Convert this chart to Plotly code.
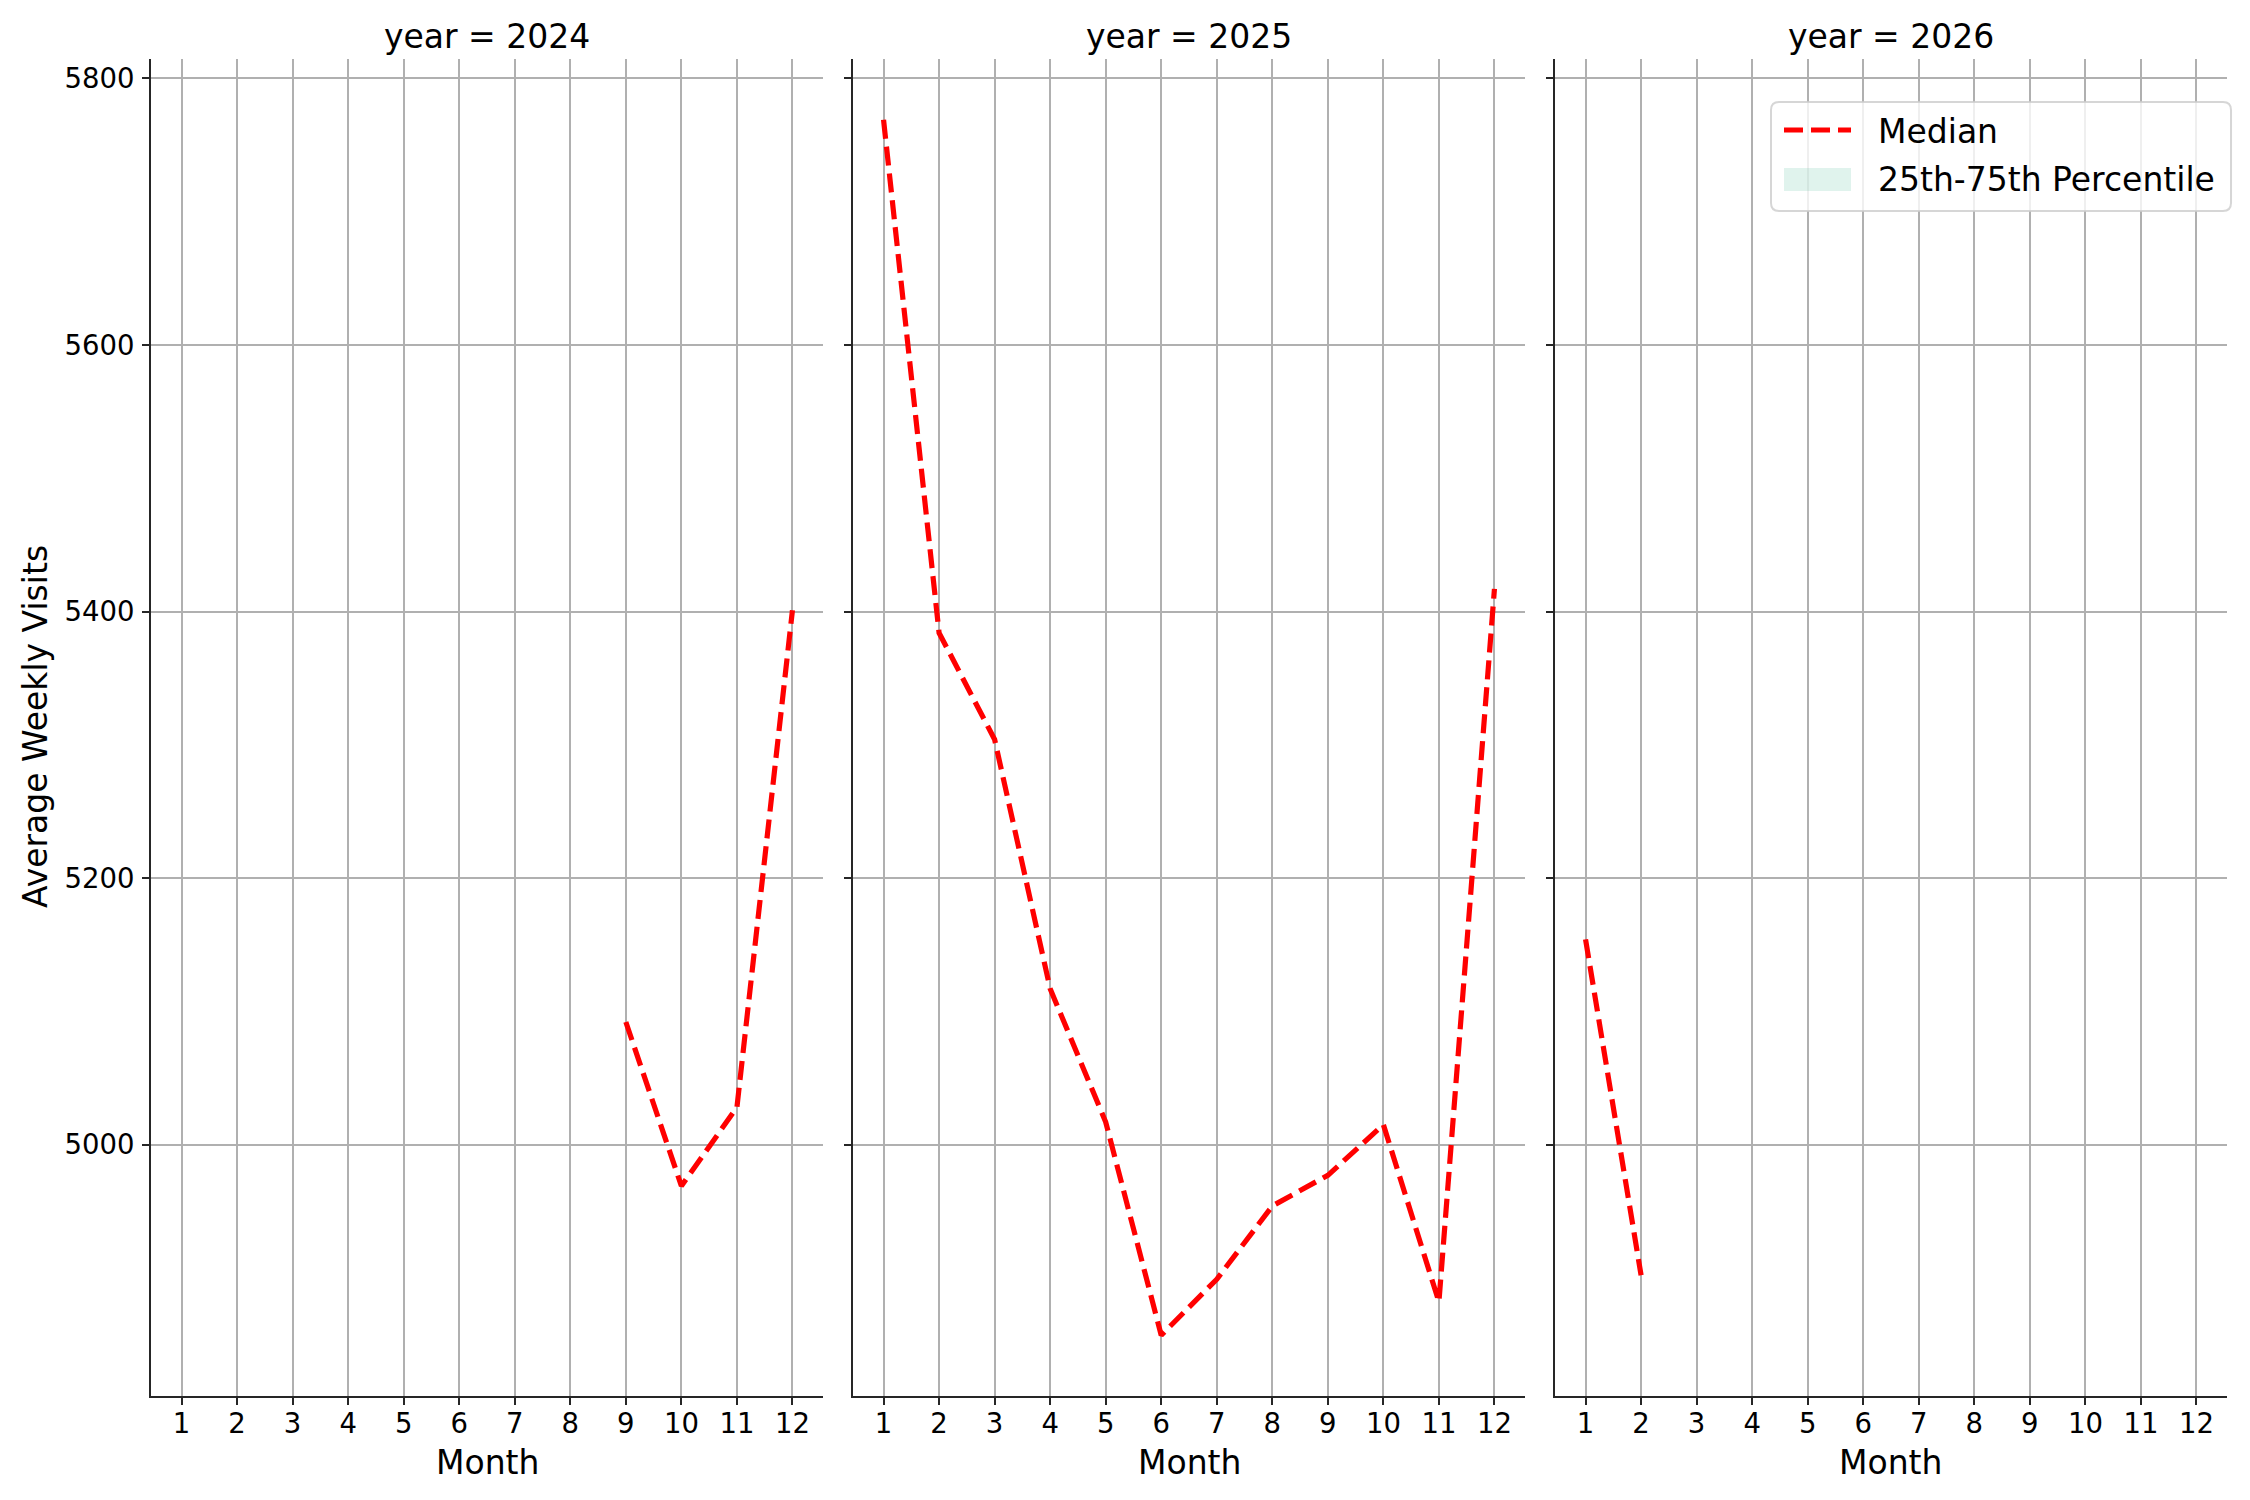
import plotly.graph_objects as go
from plotly.subplots import make_subplots

# Monthly median of average weekly visits per year
years = [2024, 2025, 2026]
months_2024 = [9, 10, 11, 12]
median_2024 = [5092, 4969, 5028, 5401]
months_2025 = [1, 2, 3, 4, 5, 6, 7, 8, 9, 10, 11, 12]
median_2025 = [5769, 5384, 5304, 5117, 5017, 4857, 4899, 4954, 4977, 5015, 4882, 5417]
months_2026 = [1, 2]
median_2026 = [5154, 4902]

# one value per month, so the 25th-75th band collapses onto the median
p25_2024, p75_2024 = median_2024, median_2024
p25_2025, p75_2025 = median_2025, median_2025
p25_2026, p75_2026 = median_2026, median_2026

month_ticks = list(range(1, 13))
y_ticks = [5000, 5200, 5400, 5600, 5800]
legend_labels = ["Median", "25th-75th Percentile"]

series = [
    (months_2024, median_2024, p25_2024, p75_2024),
    (months_2025, median_2025, p25_2025, p75_2025),
    (months_2026, median_2026, p25_2026, p75_2026),
]

# page body has an 8px margin, so the figure is a bit smaller and shifted
OFF = 8
W, H = 2250 - OFF, 1500 - OFF
FONT = "DejaVu Sans"
DARK = "#262626"
BAND = "rgba(102,194,165,0.2)"
MEDIAN_LINE = dict(color="red", width=5.2, dash="19px,8px")


def px_x(p):
    return (p - OFF) / W


def px_y(p):
    return 1 - (p - OFF) / H


fig = make_subplots(rows=1, cols=3, shared_yaxes=True)

for i, (m, med, lo, hi) in enumerate(series):
    col = i + 1
    # band polygon: lower edge forward, upper edge back
    fig.add_trace(go.Scatter(x=m + m[::-1], y=lo + hi[::-1], mode="lines",
                             line=dict(width=0, color=BAND), fill="toself", fillcolor=BAND,
                             name=legend_labels[1], showlegend=False, hoverinfo="skip"),
                  row=1, col=col)
    fig.add_trace(go.Scatter(x=m, y=med, mode="lines", name=legend_labels[0],
                             line=MEDIAN_LINE, showlegend=False),
                  row=1, col=col)

# axis limits with matplotlib-style 5% padding
all_y = median_2024 + median_2025 + median_2026
y_pad = (max(all_y) - min(all_y)) * 0.05
y_range = [min(all_y) - y_pad, max(all_y) + y_pad]
x_range = [0.45, 12.55]

# panel geometry in reference pixels
left_px = [151, 853, 1555]
panel_w = 672
top_px, bottom_px = 59, 1396
y_dom = [px_y(bottom_px), px_y(top_px)]

axis_common = dict(showgrid=True, gridcolor="#b0b0b0", gridwidth=1.7, zeroline=False,
                   showline=True, linecolor=DARK, linewidth=2, ticks="outside",
                   ticklen=7, tickwidth=1.7, tickcolor=DARK,
                   tickfont=dict(family=FONT, size=27.5, color="black"), automargin=False)

for i in range(3):
    sfx = "" if i == 0 else str(i + 1)
    x0 = px_x(left_px[i])
    x1 = px_x(left_px[i] + panel_w)
    fig.layout["xaxis" + sfx].update(domain=[x0, x1], range=x_range, tickmode="array",
                                     tickvals=month_ticks, ticklabelstandoff=-5, **axis_common)
    fig.layout["yaxis" + sfx].update(domain=y_dom, range=y_range, tickmode="array",
                                     tickvals=y_ticks, showticklabels=(i == 0),
                                     ticklabelstandoff=2, **axis_common)
    cx = (x0 + x1) / 2
    fig.add_annotation(text=f"year = {years[i]}", xref="paper", yref="paper", x=cx,
                       y=px_y(37), xanchor="center", yanchor="middle", showarrow=False,
                       font=dict(family=FONT, size=33, color="black"))
    fig.add_annotation(text="Month", xref="paper", yref="paper", x=cx,
                       y=px_y(1462), xanchor="center", yanchor="middle", showarrow=False,
                       font=dict(family=FONT, size=33, color="black"))

fig.add_annotation(text="Average Weekly Visits", xref="paper", yref="paper", x=px_x(35),
                   y=px_y(727), xanchor="center", yanchor="middle", textangle=-90,
                   showarrow=False, font=dict(family=FONT, size=33, color="black"))

# matplotlib-style legend box in the last panel (rounded frame, line key, patch key)
lx0, lx1, ly0, ly1, rad = 1771, 2231, 102, 211, 8
fx = lambda p: f"{px_x(p):.5f}"
fy = lambda p: f"{px_y(p):.5f}"
frame = (f"M {fx(lx0 + rad)},{fy(ly0)} L {fx(lx1 - rad)},{fy(ly0)} "
         f"Q {fx(lx1)},{fy(ly0)} {fx(lx1)},{fy(ly0 + rad)} L {fx(lx1)},{fy(ly1 - rad)} "
         f"Q {fx(lx1)},{fy(ly1)} {fx(lx1 - rad)},{fy(ly1)} L {fx(lx0 + rad)},{fy(ly1)} "
         f"Q {fx(lx0)},{fy(ly1)} {fx(lx0)},{fy(ly1 - rad)} L {fx(lx0)},{fy(ly0 + rad)} "
         f"Q {fx(lx0)},{fy(ly0)} {fx(lx0 + rad)},{fy(ly0)} Z")
fig.add_shape(type="path", path=frame, xref="paper", yref="paper",
              fillcolor="rgba(255,255,255,0.8)", line=dict(color="rgba(204,204,204,0.8)", width=2))
fig.add_shape(type="line", xref="paper", yref="paper", x0=px_x(1784), x1=px_x(1851),
              y0=px_y(130), y1=px_y(130), line=MEDIAN_LINE)
fig.add_shape(type="rect", xref="paper", yref="paper", x0=px_x(1784), x1=px_x(1851),
              y0=px_y(168), y1=px_y(191), fillcolor=BAND, line=dict(width=0))
for label, cy in zip(legend_labels, [131, 179]):
    fig.add_annotation(text=label, xref="paper", yref="paper", x=px_x(1876), y=px_y(cy),
                       xanchor="left", yanchor="middle", showarrow=False,
                       font=dict(family=FONT, size=33, color="black"))

fig.update_layout(
    width=W, height=H,
    template="none",
    margin=dict(l=0, r=0, t=0, b=0),
    paper_bgcolor="white", plot_bgcolor="white",
    font=dict(family=FONT, size=27, color="black"),
    showlegend=False,
)

fig.write_html("out.html")
